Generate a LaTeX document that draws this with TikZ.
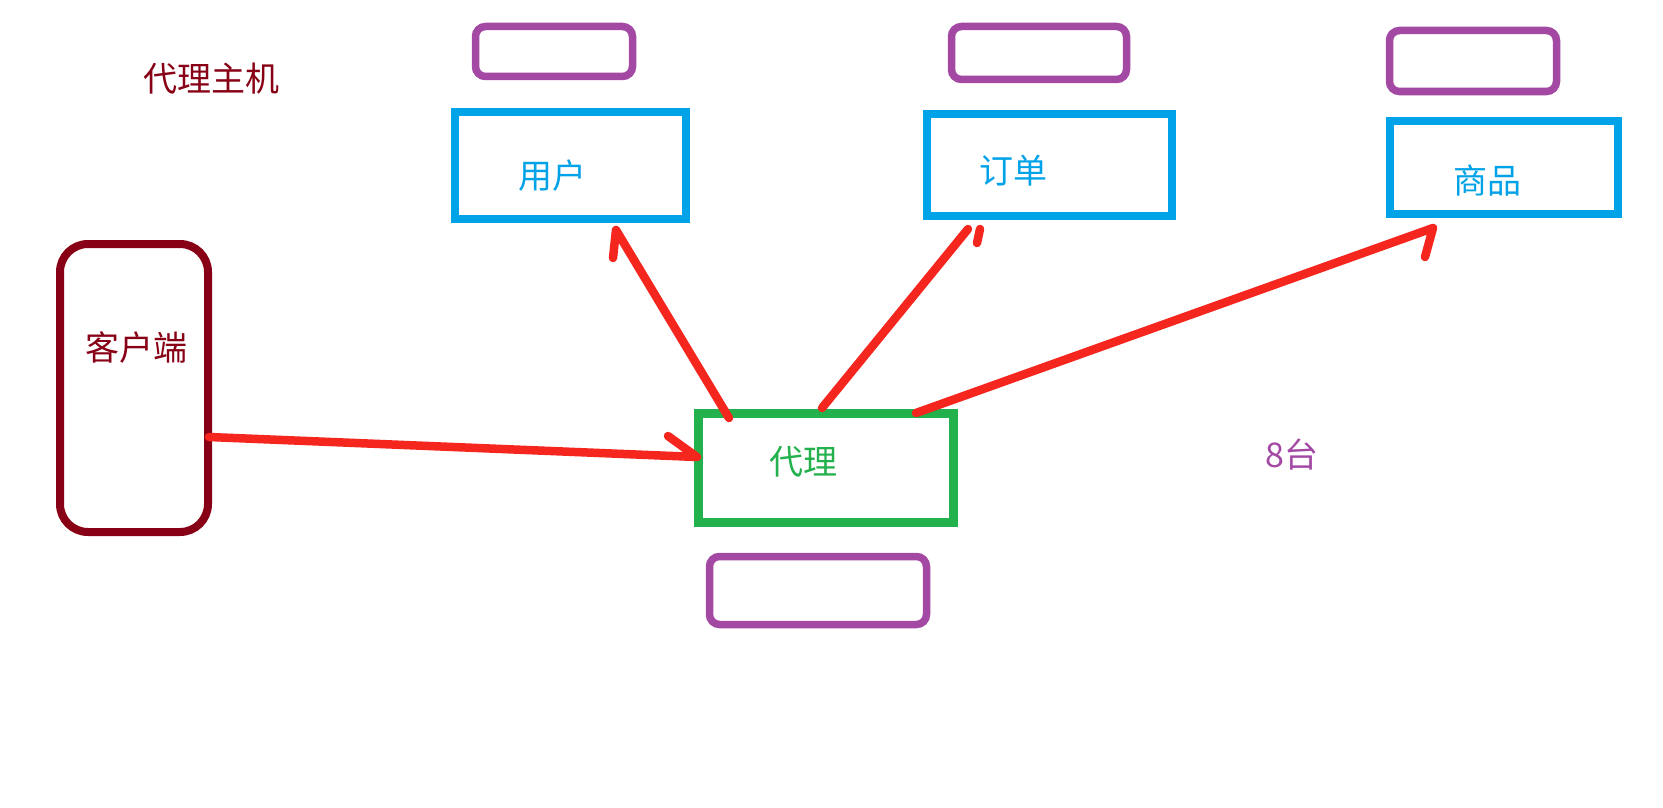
\documentclass[tikz,border=0pt]{standalone}
\usepackage{fontspec}
\newfontfamily\cjk{Noto Sans CJK SC}
\definecolor{penblue}{HTML}{00A2E8}
\definecolor{penpurple}{HTML}{A349A4}
\definecolor{pengreen}{HTML}{22B14C}
\definecolor{pendarkred}{HTML}{880015}
\definecolor{penred}{HTML}{F5261E}
\tikzset{
  spare/.style={draw=penpurple, line width=7.5pt, rounded corners=10pt, inner sep=0pt, outer sep=0pt},
  svc/.style={draw=penblue, line width=8.5pt, inner sep=0pt, outer sep=0pt},
  proxybox/.style={draw=pengreen, line width=8.5pt, inner sep=0pt, outer sep=0pt},
  clientbox/.style={draw=pendarkred, line width=8pt, rounded corners=28pt, inner sep=0pt, outer sep=0pt},
  lbl/.style={font=\cjk\fontsize{34}{40}\selectfont, inner sep=0pt},
  redpen/.style={draw=penred, line width=8.5pt, line cap=round, line join=round}
}
\begin{document}
\begin{tikzpicture}[x=1pt,y=-1pt]
\useasboundingbox[fill=white] (0,0) rectangle (1663,808);

% title
\node[lbl, text=pendarkred] (title) at (211,79) {代理主机};

% spare (standby) boxes
\node[spare, minimum width=157pt, minimum height=50pt] (p1) at (554,51.5) {};
\node[spare, minimum width=175pt, minimum height=53pt] (p2) at (1039,53) {};
\node[spare, minimum width=167pt, minimum height=61pt] (p3) at (1473,61) {};
\node[spare, minimum width=217pt, minimum height=68pt] (p4) at (818,590.5) {};

% service boxes
\node[svc, minimum width=231pt, minimum height=107pt] (u) at (570.5,165.5) {};
\node[lbl, text=penblue] (uT) at (552,176) {用户};
\node[svc, minimum width=245pt, minimum height=102pt] (d) at (1049.5,165) {};
\node[lbl, text=penblue] (dT) at (1013,171) {订单};
\node[svc, minimum width=228pt, minimum height=93pt] (s) at (1504,167.5) {};
\node[lbl, text=penblue] (sT) at (1487,181) {商品};

% client
\node[clientbox, minimum width=148pt, minimum height=288pt] (c) at (134,388) {};
\node[lbl, text=pendarkred] (cT) at (136,348) {客户端};

% proxy
\node[proxybox, minimum width=255pt, minimum height=109pt] (g) at (826,468) {};
\node[lbl, text=pengreen] (gT) at (803,462) {代理};

% machine count
\node[lbl, text=penpurple] (nT) at (1292,454) {8台};

% hand-drawn arrow points
\coordinate (cS) at (209,437);
\coordinate (cTip) at (697,457);
\coordinate (cBarb) at (668,436);
\coordinate (uS) at (729,418);
\coordinate (uTip) at (616,230);
\coordinate (uBarb) at (613,258);
\coordinate (dS) at (822,408);
\coordinate (dTip) at (968,229);
\coordinate (dTickA) at (980,229);
\coordinate (dTickB) at (977,243);
\coordinate (sS) at (916,413);
\coordinate (sTip) at (1433,228);
\coordinate (sBarb) at (1425,257);

\draw[redpen] (cS) -- (cTip) -- (cBarb);
\draw[redpen] (uS) -- (uTip) -- (uBarb);
\draw[redpen] (dS) -- (dTip);
\draw[redpen] (dTickA) -- (dTickB);
\draw[redpen] (sS) -- (sTip) -- (sBarb);
\end{tikzpicture}
\end{document}
